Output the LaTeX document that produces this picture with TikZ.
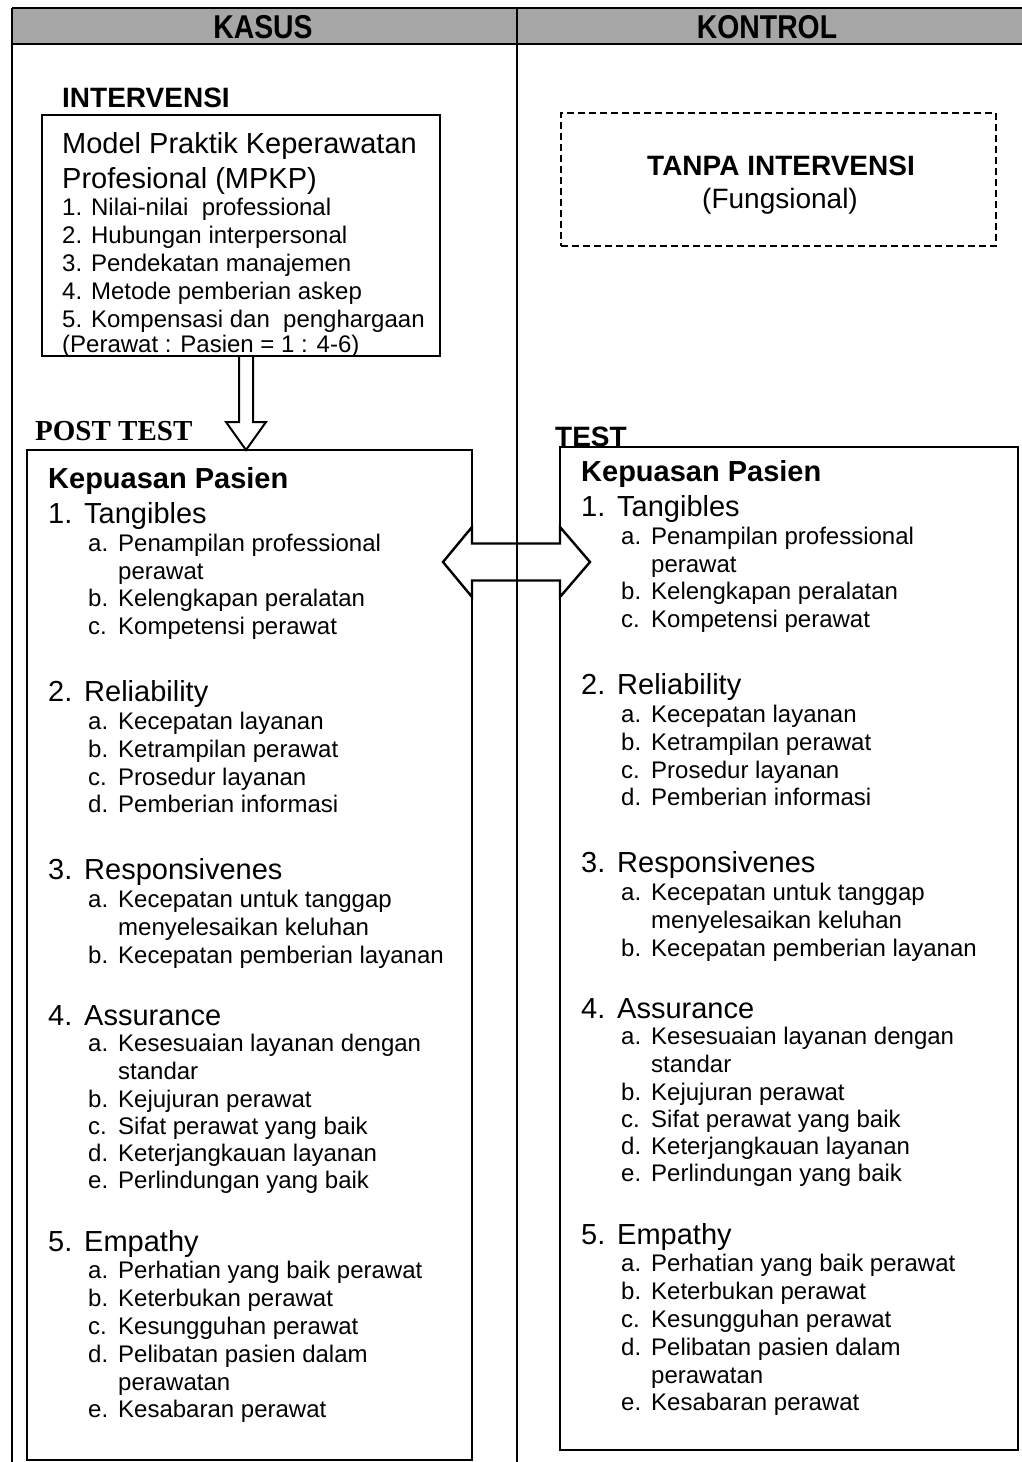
\documentclass[tikz,border=0pt]{standalone}
\usepackage{fontspec}
\setmainfont{Liberation Sans}
\newfontfamily\timesfont{Liberation Serif}
\usetikzlibrary{calc}

\tikzset{
  frame/.style={line width=1.4pt},
  boxline/.style={draw, line width=2.6pt, inner sep=0pt, outer sep=0pt, anchor=north west},
  hollow/.style={line width=2.4pt, line join=miter},
  big/.style={font=\fontsize{29}{31}\selectfont, anchor=base west, inner sep=0pt, yshift=-10.4pt},
  bigb/.style={big, font=\fontsize{29}{31}\selectfont\bfseries},
  sm/.style={font=\fontsize{24}{26}\selectfont, anchor=base west, inner sep=0pt, yshift=-8.6pt},
  headtxt/.style={font=\fontsize{33}{35}\selectfont\bfseries, anchor=base, inner sep=0pt, xscale=0.86},
}

% numbered heading and lettered sub-items of the satisfaction list
\newcommand\numtxt[2]{\makebox[36pt][l]{#1}#2}
\newcommand\lettxt[2]{\makebox[30pt][l]{#1}#2}

% #1 name prefix, (#2,#3) centre-left of the list title
\newcommand\satlist[3]{%
\begin{scope}[shift={(#2,#3)}]
  \node[bigb] (#1h)   at (0,0)   {Kepuasan Pasien};
  \node[big]  (#1t)   at (0,35)  {\numtxt{1.}{Tangibles}};
  \node[sm]   (#1ta)  at (40,65) {\lettxt{a.}{Penampilan professional}};
  \node[sm]   (#1ta2) at (70,93) {perawat};
  \node[sm]   (#1tb)  at (40,120) {\lettxt{b.}{Kelengkapan peralatan}};
  \node[sm]   (#1tc)  at (40,148) {\lettxt{c.}{Kompetensi perawat}};
  \node[big]  (#1r)   at (0,213) {\numtxt{2.}{Reliability}};
  \node[sm]   (#1ra)  at (40,243) {\lettxt{a.}{Kecepatan layanan}};
  \node[sm]   (#1rb)  at (40,271) {\lettxt{b.}{Ketrampilan perawat}};
  \node[sm]   (#1rc)  at (40,299) {\lettxt{c.}{Prosedur layanan}};
  \node[sm]   (#1rd)  at (40,326) {\lettxt{d.}{Pemberian informasi}};
  \node[big]  (#1p)   at (0,391) {\numtxt{3.}{Responsivenes}};
  \node[sm]   (#1pa)  at (40,421) {\lettxt{a.}{Kecepatan untuk tanggap}};
  \node[sm]   (#1pa2) at (70,449) {menyelesaikan keluhan};
  \node[sm]   (#1pb)  at (40,477) {\lettxt{b.}{Kecepatan pemberian layanan}};
  \node[big]  (#1a)   at (0,537) {\numtxt{4.}{Assurance}};
  \node[sm]   (#1aa)  at (40,565) {\lettxt{a.}{Kesesuaian layanan dengan}};
  \node[sm]   (#1aa2) at (70,593) {standar};
  \node[sm]   (#1ab)  at (40,621) {\lettxt{b.}{Kejujuran perawat}};
  \node[sm]   (#1ac)  at (40,648) {\lettxt{c.}{Sifat perawat yang baik}};
  \node[sm]   (#1ad)  at (40,675) {\lettxt{d.}{Keterjangkauan layanan}};
  \node[sm]   (#1ae)  at (40,702) {\lettxt{e.}{Perlindungan yang baik}};
  \node[big]  (#1e)   at (0,763) {\numtxt{5.}{Empathy}};
  \node[sm]   (#1ea)  at (40,792) {\lettxt{a.}{Perhatian yang baik perawat}};
  \node[sm]   (#1eb)  at (40,820) {\lettxt{b.}{Keterbukan perawat}};
  \node[sm]   (#1ec)  at (40,848) {\lettxt{c.}{Kesungguhan perawat}};
  \node[sm]   (#1ed)  at (40,876) {\lettxt{d.}{Pelibatan pasien dalam}};
  \node[sm]   (#1ed2) at (70,904) {perawatan};
  \node[sm]   (#1ee)  at (40,931) {\lettxt{e.}{Kesabaran perawat}};
\end{scope}}

\begin{document}
\begin{tikzpicture}[x=1pt, y=-1pt]
\useasboundingbox (0,0) rectangle (1022,1462);

% header band
\fill[black!35] (12,8) rectangle (1022,44);
\draw[frame] (12,8) -- (1022,8);
\draw[line width=2pt] (12,44) -- (1022,44);
\draw[frame] (12,8) -- (12,1462);
\node[headtxt] (kasus)   at (263,38) {KASUS};
\node[headtxt] (kontrol) at (767,38) {KONTROL};

% intervention side
\node[font=\fontsize{28}{30}\selectfont\bfseries, anchor=base west, inner sep=0pt] (interv) at (62,107) {INTERVENSI};
\node[draw, line width=2pt, inner sep=0pt, outer sep=0pt, anchor=north west,
      minimum width=398pt, minimum height=241pt] (mpkp) at (42,115) {};
\node[big] (m1) at (62,143) {Model Praktik Keperawatan};
\node[big] (m2) at (62,178) {Profesional (MPKP)};
\node[sm]  (m3) at (62,207) {1. Nilai-nilai\ \ professional};
\node[sm]  (m4) at (62,235) {2. Hubungan interpersonal};
\node[sm]  (m5) at (62,263) {3. Pendekatan manajemen};
\node[sm]  (m6) at (62,291) {4. Metode pemberian askep};
\node[sm]  (m7) at (62,319) {5. Kompensasi dan\ \ penghargaan};
\node[sm]  (m8) at (62,344) {(Perawat : Pasien = 1 : 4-6)};

% control side
\node[draw, line width=1.6pt, dash pattern=on 7pt off 4pt, inner sep=0pt, outer sep=0pt,
      anchor=north west, minimum width=435pt, minimum height=133pt] (ctrl) at (561,113) {};
\node[font=\fontsize{28}{30}\selectfont\bfseries, anchor=base, inner sep=0pt] (tanpa) at (781,175) {TANPA INTERVENSI};
\node[font=\fontsize{28}{30}\selectfont, anchor=base, inner sep=0pt] (fungs) at (780,208) {(Fungsional)};

% measurement boxes
\node[font=\fontsize{29}{31}\selectfont\timesfont\bfseries, anchor=base west, inner sep=0pt] (posttest) at (35,440) {POST TEST};
\node[font=\fontsize{28}{30}\selectfont\bfseries, anchor=base west, inner sep=0pt] (testlbl) at (555,446) {TEST};
\node[boxline, minimum width=445pt, minimum height=1010pt] (post) at (27,450) {};
\node[boxline, minimum width=458pt, minimum height=1003pt] (test) at (560,447) {};

\satlist{L}{48}{478}
\satlist{R}{581}{471}

% hollow arrow from the intervention to the post test
\coordinate (dx) at (246,0);
\coordinate (dtop) at (dx |- mpkp.south);
\coordinate (dtip) at (dx |- post.north);
\draw[hollow, line width=2pt] ($(dtop)+(-7,0)$) -- ($(dtip)+(-7,-28)$) -- ($(dtip)+(-20,-28)$)
  -- (dtip) -- ($(dtip)+(20,-28)$) -- ($(dtip)+(7,-28)$) -- ($(dtop)+(7,0)$);

% hollow double arrow comparing both groups
\coordinate (mid) at (0,562);
\coordinate (hl) at (post.north east |- mid);
\coordinate (hr) at (test.north west |- mid);
\draw[hollow, fill=white] ($(hl)+(-29,0)$) -- ($(hl)+(0,-35)$) -- ($(hl)+(0,-18.5)$)
  -- ($(hr)+(0,-18.5)$) -- ($(hr)+(0,-35)$) -- ($(hr)+(30,0)$) -- ($(hr)+(0,35)$)
  -- ($(hr)+(0,18.5)$) -- ($(hl)+(0,18.5)$) -- ($(hl)+(0,35)$) -- cycle;

% column divider
\draw[frame] (517,8) -- (517,1462);
\end{tikzpicture}
\end{document}
